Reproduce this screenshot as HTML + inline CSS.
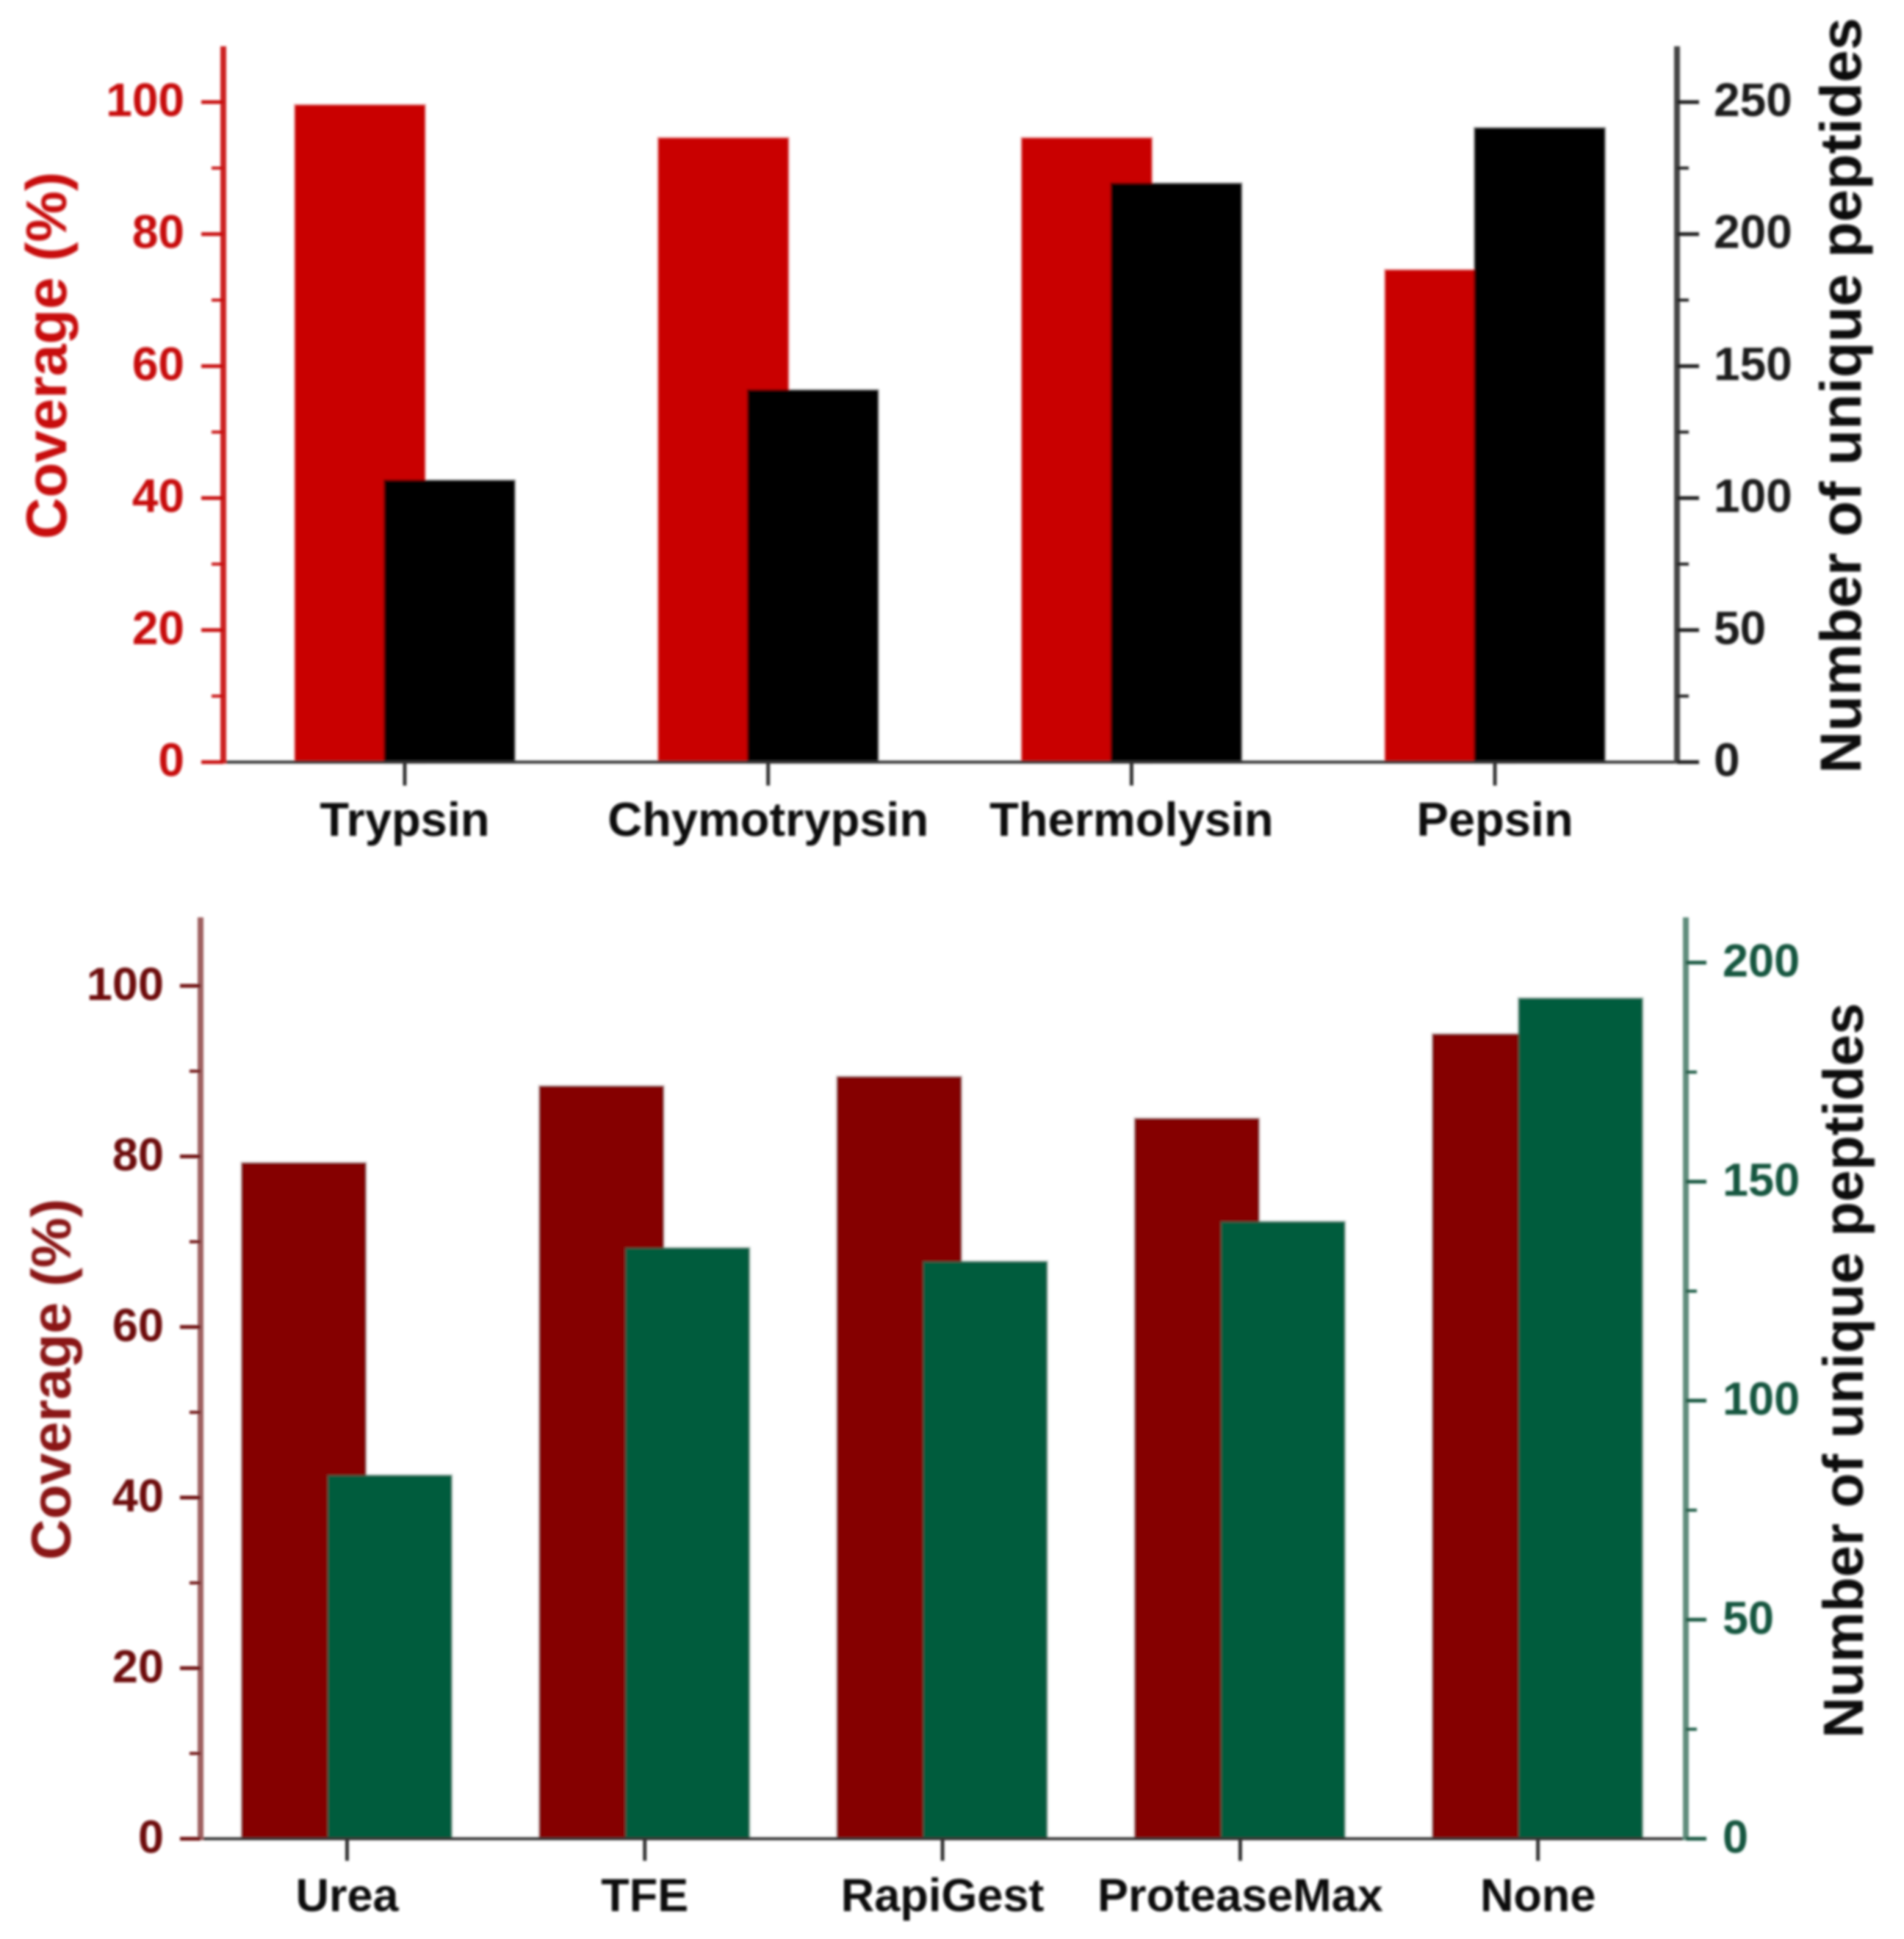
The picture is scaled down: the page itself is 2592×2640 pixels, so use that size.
<!DOCTYPE html>
<html>
<head>
<meta charset="utf-8">
<title>Coverage and unique peptides</title>
<style>
html,body{margin:0;padding:0;background:#fff;}
svg{display:block;}
text{font-family:"Liberation Sans",Arial,sans-serif;font-weight:bold;}
</style>
</head>
<body>
<svg id="figure" xmlns="http://www.w3.org/2000/svg" width="2592" height="2640" viewBox="0 0 2592 2640">
  <defs>
    <filter id="soft" filterUnits="userSpaceOnUse" x="0" y="0" width="2592" height="2640">
      <feGaussianBlur stdDeviation="1.6"/>
    </filter>
  </defs>
  <rect width="2592" height="2640" fill="#ffffff"/>
  <g id="panel-top" filter="url(#soft)"></g>
  <g id="panel-bottom" filter="url(#soft)"></g>
</svg>
<script>
// Top chart data
const topCategories = ["Trypsin", "Chymotrypsin", "Thermolysin", "Pepsin"];
const topCoverage = [99.5, 94.5, 94.5, 74.5];
const topPeptides = [106.5, 140.7, 219, 240];
const topLeftTicks = [0, 20, 40, 60, 80, 100];
const topRightTicks = [0, 50, 100, 150, 200, 250];

// Bottom chart data
const bottomCategories = ["Urea", "TFE", "RapiGest", "ProteaseMax", "None"];
const bottomCoverage = [79.2, 88.2, 89.3, 84.4, 94.3];
const bottomPeptides = [82.9, 134.8, 131.7, 140.8, 191.8];
const bottomLeftTicks = [0, 20, 40, 60, 80, 100];
const bottomRightTicks = [0, 50, 100, 150, 200];

const SVG_NS = "http://www.w3.org/2000/svg";

function node(parent, tag, attrs, content) {
  const el = document.createElementNS(SVG_NS, tag);
  for (const key in attrs) el.setAttribute(key, attrs[key]);
  if (content !== undefined) el.textContent = content;
  parent.appendChild(el);
  return el;
}

function drawChart(parent, layout, categories, coverage, peptides, leftTicks, rightTicks) {
  const leftScale = function (v) { return layout.y0 - (v - leftTicks[0]) * (layout.y0 - layout.yTop) / (leftTicks[leftTicks.length - 1] - leftTicks[0]); };
  const rightScale = function (v) { return layout.y0 - (v - rightTicks[0]) * (layout.y0 - layout.yTopRight) / (rightTicks[rightTicks.length - 1] - rightTicks[0]); };
  const xScale = function (i) { return layout.x0 + i * layout.step; };

  // bars: coverage first, peptides drawn over it
  categories.forEach(function (cat, i) {
    const yc = leftScale(coverage[i]);
    const covBar = node(parent, "rect", {
      x: xScale(i) + layout.leftBarOffset, y: yc,
      width: layout.barWidth, height: layout.y0 - yc,
      fill: layout.coverageColor, stroke: layout.coverageEdge, "stroke-width": 4
    });
    
    
  });
  categories.forEach(function (cat, i) {
    const yp = rightScale(peptides[i]);
    const pepBar = node(parent, "rect", {
      x: xScale(i) + layout.rightBarOffset, y: yp,
      width: layout.barWidth, height: layout.y0 - yp,
      fill: layout.peptideColor, stroke: layout.peptideEdge, "stroke-width": 4
    });
    
    
  });

  // x axis
  const xAxis = node(parent, "line", { x1: layout.axisLeft, x2: layout.axisRight, y1: layout.y0, y2: layout.y0, stroke: "#333", "stroke-width": 4 });
  
  
  categories.forEach(function (cat, i) {
    const tick = node(parent, "line", { x1: xScale(i), x2: xScale(i), y1: layout.y0, y2: layout.y0 + layout.xTickLen, stroke: "#333", "stroke-width": 5 });
    
    
    const label = node(parent, "text", { x: xScale(i), y: layout.xLabelY, "text-anchor": "middle", "font-size": layout.xFont, fill: "#111" }, cat);
    
    
  });

  // left axis
  const leftAxis = node(parent, "line", { x1: layout.axisLeft, x2: layout.axisLeft, y1: layout.axisTop, y2: layout.y0 + 2, stroke: layout.leftAxisColor, "stroke-width": layout.axisWidth });
  
  
  leftTicks.forEach(function (v, i) {
    const y = leftScale(v);
    const tick = node(parent, "line", { x1: layout.axisLeft - layout.majorLen, x2: layout.axisLeft, y1: y, y2: y, stroke: layout.leftColor, "stroke-width": 5 });
    
    
    const label = node(parent, "text", { x: layout.leftLabelX, y: y + layout.labelDy, "text-anchor": "end", "font-size": layout.tickFont, fill: layout.leftColor }, v);
    
    
    if (i < leftTicks.length - 1) {
      const my = leftScale((v + leftTicks[i + 1]) / 2);
      const minor = node(parent, "line", { x1: layout.axisLeft - layout.minorLen, x2: layout.axisLeft, y1: my, y2: my, stroke: layout.leftColor, "stroke-width": 4 });
      
      
    }
  });

  // right axis
  const rightAxis = node(parent, "line", { x1: layout.axisRight, x2: layout.axisRight, y1: layout.axisTop, y2: layout.y0 + 2, stroke: layout.rightAxisColor, "stroke-width": layout.axisWidth });
  
  
  rightTicks.forEach(function (v, i) {
    const y = rightScale(v);
    const tick = node(parent, "line", { x1: layout.axisRight, x2: layout.axisRight + layout.majorLen, y1: y, y2: y, stroke: layout.rightColor, "stroke-width": 5 });
    
    
    const label = node(parent, "text", { x: layout.rightLabelX, y: y + layout.labelDy, "text-anchor": "start", "font-size": layout.tickFont, fill: layout.rightColor }, v);
    
    
    if (i < rightTicks.length - 1) {
      const my = rightScale((v + rightTicks[i + 1]) / 2);
      const minor = node(parent, "line", { x1: layout.axisRight, x2: layout.axisRight + layout.minorLen, y1: my, y2: my, stroke: layout.rightColor, "stroke-width": 4 });
      
      
    }
  });

  // axis titles
  const leftTitle = node(parent, "text", {
    transform: "translate(" + layout.leftTitleX + "," + layout.leftTitleY + ") rotate(-90)",
    "text-anchor": "middle", "font-size": layout.leftTitleFont, fill: layout.leftTitleColor,
    textLength: layout.leftTitleLen, lengthAdjust: "spacingAndGlyphs"
  }, "Coverage (%)");
  
  
  const rightTitle = node(parent, "text", {
    transform: "translate(" + layout.rightTitleX + "," + layout.rightTitleY + ") rotate(-90)",
    "text-anchor": "middle", "font-size": layout.rightTitleFont, fill: "#0a0a0a",
    textLength: layout.rightTitleLen, lengthAdjust: "spacingAndGlyphs"
  }, "Number of unique peptides");
  
  
}

drawChart(document.getElementById("panel-top"), {
  y0: 1037.6, yTop: 139, yTopRight: 139, axisTop: 63,
  axisLeft: 304, axisRight: 2283, axisWidth: 8,
  x0: 551, step: 494.7, barWidth: 176, leftBarOffset: -149, rightBarOffset: -27,
  coverageColor: "#c90606", coverageEdge: "rgba(201,6,6,0.4)",
  peptideColor: "#000000", peptideEdge: "rgba(0,0,0,0.45)",
  leftColor: "#c80d0d", rightColor: "#1c1c1c", leftAxisColor: "#cc2222", rightAxisColor: "#444444",
  leftTitleColor: "#c80d0d",
  majorLen: 30, minorLen: 16, xTickLen: 32,
  tickFont: 64, labelDy: 19, xFont: 65, xLabelY: 1138,
  leftLabelX: 251, rightLabelX: 2333,
  leftTitleX: 90, leftTitleY: 484, leftTitleFont: 78, leftTitleLen: 500,
  rightTitleX: 2533, rightTitleY: 538.5, rightTitleFont: 79, rightTitleLen: 1029
}, topCategories, topCoverage, topPeptides, topLeftTicks, topRightTicks);

drawChart(document.getElementById("panel-bottom"), {
  y0: 2503.5, yTop: 1342.3, yTopRight: 1310.6, axisTop: 1249,
  axisLeft: 273, axisRight: 2295, axisWidth: 8,
  x0: 472.5, step: 405.3, barWidth: 168, leftBarOffset: -143, rightBarOffset: -26,
  coverageColor: "#850000", coverageEdge: "rgba(90,40,40,0.35)",
  peptideColor: "#005c3c", peptideEdge: "rgba(60,100,85,0.35)",
  leftColor: "#6e0a0a", rightColor: "#13573f", leftAxisColor: "#9e6060", rightAxisColor: "#5f8c7c",
  leftTitleColor: "#8a1212",
  majorLen: 28, minorLen: 15, xTickLen: 30,
  tickFont: 63, labelDy: 19, xFont: 63, xLabelY: 2602,
  leftLabelX: 223, rightLabelX: 2345,
  leftTitleX: 96, leftTitleY: 1878, leftTitleFont: 76, leftTitleLen: 492,
  rightTitleX: 2536, rightTitleY: 1866, rightTitleFont: 77, rightTitleLen: 1001
}, bottomCategories, bottomCoverage, bottomPeptides, bottomLeftTicks, bottomRightTicks);
</script>
</body>
</html>
